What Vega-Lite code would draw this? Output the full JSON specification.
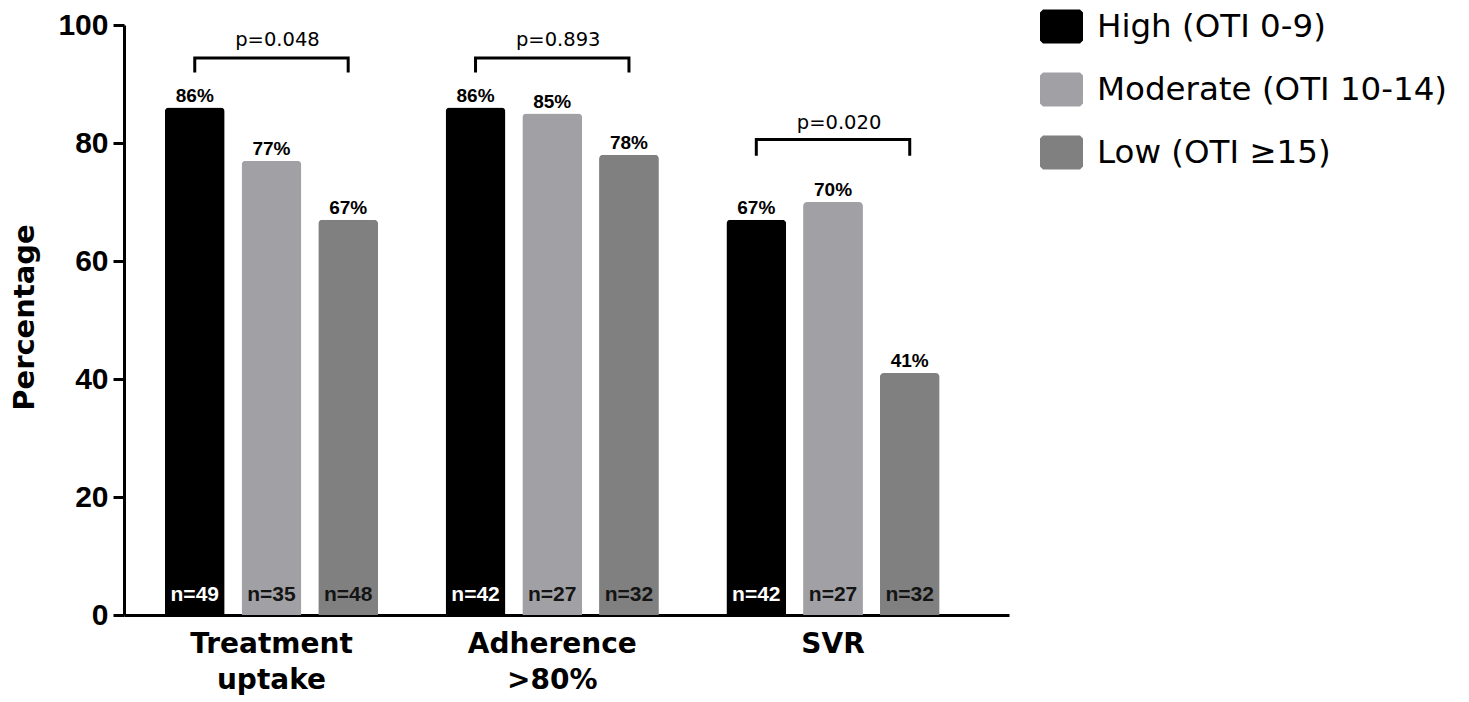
{
  "$schema": "https://vega.github.io/schema/vega-lite/v6.json",
  "width": 885,
  "height": 590,
  "autosize": {"type": "none"},
  "padding": {"left": 124, "top": 25, "right": 460, "bottom": 87},
  "background": "white",
  "config": {
    "view": {"stroke": null},
    "axisY": {
      "grid": false,
      "domainColor": "black",
      "domainWidth": 3,
      "tickColor": "black",
      "tickWidth": 3,
      "tickSize": 11,
      "labelFont": "Liberation Sans",
      "labelFontWeight": "bold",
      "labelFontSize": 30,
      "labelColor": "black",
      "labelPadding": 5,
      "labelFlush": false,
      "labelOverlap": false,
      "titleFont": "DejaVu Sans",
      "titleFontWeight": "bold",
      "titleFontSize": 29,
      "titleColor": "black",
      "titleX": -100,
      "titleY": 292,
      "titleAngle": -90,
      "titleAlign": "center",
      "titleBaseline": "middle"
    }
  },
  "datasets": {
    "bars": [
      {"group": "Treatment uptake", "level": "High (OTI 0-9)", "pct": 86, "n": 49},
      {"group": "Treatment uptake", "level": "Moderate (OTI 10-14)", "pct": 77, "n": 35},
      {"group": "Treatment uptake", "level": "Low (OTI ≥15)", "pct": 67, "n": 48},
      {"group": "Adherence >80%", "level": "High (OTI 0-9)", "pct": 86, "n": 42},
      {"group": "Adherence >80%", "level": "Moderate (OTI 10-14)", "pct": 85, "n": 27},
      {"group": "Adherence >80%", "level": "Low (OTI ≥15)", "pct": 78, "n": 32},
      {"group": "SVR", "level": "High (OTI 0-9)", "pct": 67, "n": 42},
      {"group": "SVR", "level": "Moderate (OTI 10-14)", "pct": 70, "n": 27},
      {"group": "SVR", "level": "Low (OTI ≥15)", "pct": 41, "n": 32}
    ],
    "brackets": [
      {"group": "Treatment uptake", "level": "High (OTI 0-9)", "pct": 92.2, "ord": 1},
      {"group": "Treatment uptake", "level": "High (OTI 0-9)", "pct": 94.4, "ord": 2},
      {"group": "Treatment uptake", "level": "Low (OTI ≥15)", "pct": 94.4, "ord": 3},
      {"group": "Treatment uptake", "level": "Low (OTI ≥15)", "pct": 92.2, "ord": 4},
      {"group": "Adherence >80%", "level": "High (OTI 0-9)", "pct": 92.2, "ord": 1},
      {"group": "Adherence >80%", "level": "High (OTI 0-9)", "pct": 94.4, "ord": 2},
      {"group": "Adherence >80%", "level": "Low (OTI ≥15)", "pct": 94.4, "ord": 3},
      {"group": "Adherence >80%", "level": "Low (OTI ≥15)", "pct": 92.2, "ord": 4},
      {"group": "SVR", "level": "High (OTI 0-9)", "pct": 78.1, "ord": 1},
      {"group": "SVR", "level": "High (OTI 0-9)", "pct": 80.6, "ord": 2},
      {"group": "SVR", "level": "Low (OTI ≥15)", "pct": 80.6, "ord": 3},
      {"group": "SVR", "level": "Low (OTI ≥15)", "pct": 78.1, "ord": 4}
    ],
    "pvals": [
      {"group": "Treatment uptake", "level": "Moderate (OTI 10-14)", "pct": 97.5, "p": "p=0.048"},
      {"group": "Adherence >80%", "level": "Moderate (OTI 10-14)", "pct": 97.5, "p": "p=0.893"},
      {"group": "SVR", "level": "Moderate (OTI 10-14)", "pct": 83.4, "p": "p=0.020"}
    ]
  },
  "encoding": {
    "x": {
      "field": "group",
      "type": "nominal",
      "sort": ["Treatment uptake", "Adherence >80%", "SVR"],
      "scale": {"paddingInner": 0, "paddingOuter": 0.076, "align": 0.166},
      "axis": {
        "title": null,
        "ticks": false,
        "domainColor": "black",
        "domainWidth": 3,
        "labelFont": "DejaVu Sans",
        "labelFontWeight": "bold",
        "labelFontSize": 28,
        "labelColor": "black",
        "labelPadding": 15,
        "labelLineHeight": 36,
        "labelAngle": 0,
        "labelBaseline": "top",
        "labelLimit": 400,
        "labelExpr": "datum.label == 'SVR' ? 'SVR' : split(datum.label, ' ')"
      }
    },
    "xOffset": {
      "field": "level",
      "type": "nominal",
      "sort": ["High (OTI 0-9)", "Moderate (OTI 10-14)", "Low (OTI ≥15)"],
      "scale": {"paddingInner": 0.22, "paddingOuter": 0.44}
    },
    "y": {
      "field": "pct",
      "type": "quantitative",
      "title": "Percentage",
      "scale": {"domain": [0, 100], "nice": false},
      "axis": {"values": [0, 20, 40, 60, 80, 100]}
    }
  },
  "layer": [
    {
      "data": {"name": "bars"},
      "mark": {"type": "bar", "cornerRadiusTopLeft": 4, "cornerRadiusTopRight": 4},
      "encoding": {
        "color": {
          "field": "level",
          "type": "nominal",
          "sort": ["High (OTI 0-9)", "Moderate (OTI 10-14)", "Low (OTI ≥15)"],
          "scale": {
            "domain": ["High (OTI 0-9)", "Moderate (OTI 10-14)", "Low (OTI ≥15)"],
            "range": ["#000000", "#a1a1a5", "#808080"]
          },
          "legend": {
            "orient": "none",
            "legendX": 916,
            "legendY": -20,
            "title": null,
            "padding": 0,
            "symbolType": "M-0.86,-0.79L0.86,-0.79L1,-0.65L1,0.65L0.86,0.79L-0.86,0.79L-1,0.65L-1,-0.65Z",
            "symbolSize": 1849,
            "symbolStrokeWidth": 0,
            "symbolOpacity": 1,
            "labelFont": "DejaVu Sans",
            "labelFontSize": 32.5,
            "labelColor": "black",
            "labelOffset": 14,
            "labelLimit": 500,
            "rowPadding": 24
          }
        }
      }
    },
    {
      "data": {"name": "bars"},
      "mark": {"type": "text", "font": "Liberation Sans", "fontWeight": "bold", "fontSize": 19, "baseline": "alphabetic", "dy": -6, "color": "black", "text": {"expr": "datum.pct + '%'"}}
    },
    {
      "data": {"name": "bars"},
      "mark": {"type": "text", "font": "Liberation Sans", "fontWeight": "bold", "fontSize": 21, "baseline": "alphabetic", "dy": -14, "text": {"expr": "'n=' + datum.n"}},
      "encoding": {
        "y": {"datum": 0, "type": "quantitative", "title": "Percentage", "axis": {"values": [0, 20, 40, 60, 80, 100]}},
        "color": {"condition": {"test": "datum.level == 'High (OTI 0-9)'", "value": "white"}, "value": "#141414"}
      }
    },
    {
      "data": {"name": "brackets"},
      "mark": {"type": "line", "color": "black", "strokeWidth": 3, "strokeCap": "square", "strokeJoin": "miter"},
      "encoding": {
        "detail": {"field": "group"},
        "order": {"field": "ord", "type": "quantitative"}
      }
    },
    {
      "data": {"name": "pvals"},
      "mark": {"type": "text", "font": "DejaVu Sans", "fontSize": 19.5, "baseline": "middle", "color": "black", "dx": 6},
      "encoding": {
        "text": {"field": "p"}
      }
    }
  ]
}
